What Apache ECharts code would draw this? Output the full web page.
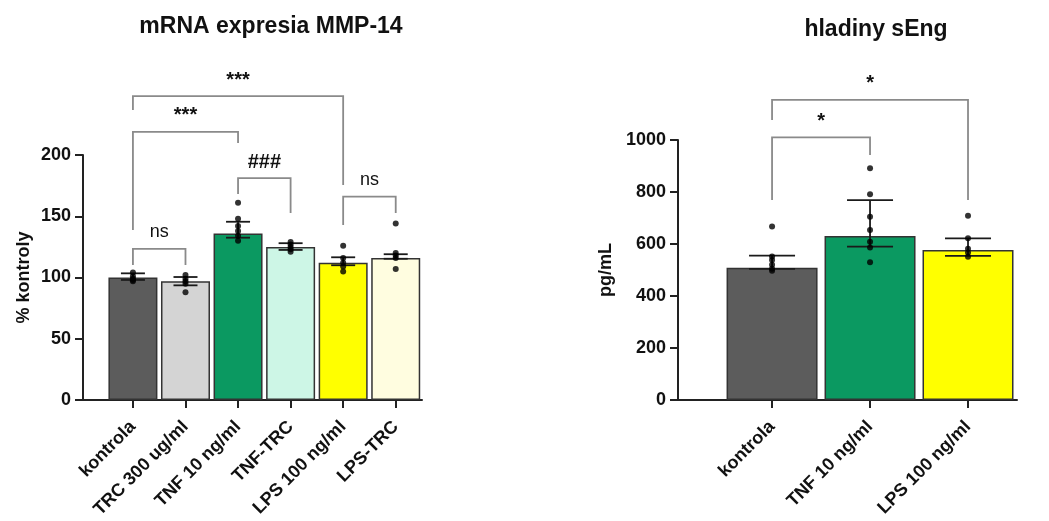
<!DOCTYPE html>
<html>
<head>
<meta charset="utf-8">
<script src="https://cdn.jsdelivr.net/npm/echarts@6/dist/echarts.min.js"></script>
<style>
  html, body { margin: 0; padding: 0; background: #fff; }
  #chart { width: 1049px; height: 521px; }
</style>
</head>
<body>
<div id="chart"></div>
<script>
// left panel: mRNA expresia MMP-14
const mmpCategories = ['kontrola', 'TRC 300 ug/ml', 'TNF 10 ng/ml', 'TNF-TRC', 'LPS 100 ng/ml', 'LPS-TRC']
const mmpMeans = [100, 97, 136, 125, 112, 116]
const mmpErrLow = [98, 93.6, 132.5, 122.5, 110, 115.3]
const mmpErrHigh = [103.4, 100.4, 145.5, 128, 116.5, 119]
const mmpPoints = [
  [104, 101, 99, 98, 97],
  [102, 99, 97, 95, 88],
  [161, 148, 142, 138, 134, 130],
  [129, 127, 125, 123, 121],
  [126, 116, 112, 109, 105],
  [144, 120, 118, 116, 107]
]
const mmpColors = ['#5c5c5c', '#d4d4d4', '#0b9961', '#cdf6e6', '#ffff00', '#fffde0']
const mmpYTicks = [0, 50, 100, 150, 200]
// brackets: [from, to, top, leftLegEnd, rightLegEnd, text]
const mmpBrackets = [
  [0, 4, 248, 236.7, 175.5, '***'],
  [0, 2, 218.8, 138.8, 209.8, '***'],
  [2, 3, 181.2, 168.2, 152.7, '###'],
  [4, 5, 166, 142.9, 152.7, 'ns'],
  [0, 1, 123.3, 110.2, 110.2, 'ns']
]

// right panel: hladiny sEng
const engCategories = ['kontrola', 'TNF 10 ng/ml', 'LPS 100 ng/ml']
const engMeans = [509, 631, 577]
const engErrLow = [504, 590, 554]
const engErrHigh = [555, 769, 622]
const engPoints = [
  [667, 552, 538, 520, 505, 497],
  [891, 791, 705, 654, 609, 587, 530],
  [709, 622, 582, 567, 551]
]
const engColors = ['#5c5c5c', '#0b9961', '#ffff00']
const engYTicks = [0, 200, 400, 600, 800, 1000]
const engBrackets = [
  [0, 2, 1154, 1077, 769, '*'],
  [0, 1, 1010, 769, 942, '*']
]

const FONT = 'Liberation Sans, Arial, sans-serif'
const chart = echarts.init(document.getElementById('chart'))

function xAxisFor(gridIndex, cats, min) {
  const idx = cats.map((c, i) => i)
  return {
    gridIndex,
    type: 'value',
    min,
    max: cats.length - 0.5,
    splitLine: { show: false },
    axisLine: { lineStyle: { color: '#222', width: 2 } },
    axisTick: { customValues: idx, length: 8, lineStyle: { color: '#222', width: 2 } },
    axisLabel: {
      customValues: idx,
      rotate: 45,
      margin: 24,
      color: '#111',
      fontWeight: 'bold',
      fontSize: 18,
      fontFamily: FONT,
      formatter: v => cats[Math.round(v)]
    }
  }
}

function yAxisFor(gridIndex, ticks, name, nameGap) {
  return {
    gridIndex,
    type: 'value',
    min: ticks[0],
    max: ticks[ticks.length - 1],
    interval: ticks[1] - ticks[0],
    name,
    nameLocation: 'middle',
    nameGap,
    nameTextStyle: { color: '#111', fontWeight: 'bold', fontSize: 18, fontFamily: FONT },
    splitLine: { show: false },
    axisLine: { show: true, onZero: false, lineStyle: { color: '#222', width: 2 } },
    axisTick: { show: true, length: 8, lineStyle: { color: '#222', width: 2 } },
    axisLabel: { color: '#111', fontWeight: 'bold', fontSize: 18, fontFamily: FONT, margin: 12,
      formatter: v => String(v) }
  }
}

function panelSeries(axisIndex, means, colors, errLow, errHigh, points, brackets, barWidth, capWidth) {
  const series = []
  series.push({
    type: 'bar',
    xAxisIndex: axisIndex,
    yAxisIndex: axisIndex,
    barWidth,
    data: means.map((v, i) => ({
      value: [i, v],
      itemStyle: { color: colors[i], borderColor: '#333', borderWidth: 1.5 }
    })),
    z: 2
  })
  series.push({
    type: 'custom',
    xAxisIndex: axisIndex,
    yAxisIndex: axisIndex,
    data: means.map((v, i) => [i, errLow[i], errHigh[i]]),
    renderItem: (params, api) => {
      const x = api.value(0)
      const lo = api.coord([x, api.value(1)])
      const hi = api.coord([x, api.value(2)])
      const h = capWidth / 2
      const st = { stroke: '#1a1a1a', lineWidth: 1.8 }
      return {
        type: 'group',
        children: [
          { type: 'line', shape: { x1: lo[0], y1: lo[1], x2: hi[0], y2: hi[1] }, style: st },
          { type: 'line', shape: { x1: hi[0] - h, y1: hi[1], x2: hi[0] + h, y2: hi[1] }, style: st },
          { type: 'line', shape: { x1: lo[0] - h, y1: lo[1], x2: lo[0] + h, y2: lo[1] }, style: st }
        ]
      }
    },
    z: 3
  })
  const dots = []
  points.forEach((arr, i) => arr.forEach(v => dots.push([i, v])))
  series.push({
    type: 'scatter',
    xAxisIndex: axisIndex,
    yAxisIndex: axisIndex,
    symbolSize: 6,
    itemStyle: { color: '#000' },
    data: dots,
    z: 4
  })
  series.push({
    type: 'custom',
    xAxisIndex: axisIndex,
    yAxisIndex: axisIndex,
    clip: false,
    data: brackets.map(b => b.slice(0, 5)),
    renderItem: (params, api) => {
      const b = brackets[params.dataIndex]
      const p1 = api.coord([b[0], b[3]])
      const p2 = api.coord([b[0], b[2]])
      const p3 = api.coord([b[1], b[2]])
      const p4 = api.coord([b[1], b[4]])
      const isNs = b[5] === 'ns'
      return {
        type: 'group',
        children: [
          {
            type: 'polyline',
            shape: { points: [p1, p2, p3, p4] },
            style: { stroke: '#8a8a8a', lineWidth: 1.8, fill: null }
          },
          {
            type: 'text',
            x: (p2[0] + p3[0]) / 2,
            y: p2[1] - (isNs ? 8 : 6),
            style: {
              text: b[5],
              fill: '#111',
              font: (isNs ? 'normal 18px ' : 'bold 20px ') + FONT,
              align: 'center',
              verticalAlign: 'bottom'
            }
          }
        ]
      }
    },
    z: 5
  })
  return series
}

chart.setOption({
  animation: false,
  title: [
    { text: 'mRNA expresia MMP-14', left: 266, top: 10, textAlign: 'center',
      textStyle: { fontSize: 23, fontWeight: 'bold', color: '#111', fontFamily: FONT } },
    { text: 'hladiny sEng', left: 871, top: 13, textAlign: 'center',
      textStyle: { fontSize: 23, fontWeight: 'bold', color: '#111', fontFamily: FONT } }
  ],
  grid: [
    { left: 83, top: 155, width: 339, height: 245 },
    { left: 678, top: 140, width: 339, height: 260 }
  ],
  xAxis: [
    xAxisFor(0, mmpCategories, -0.95),
    xAxisFor(1, engCategories, -0.96)
  ],
  yAxis: [
    yAxisFor(0, mmpYTicks, '% kontroly', 50),
    yAxisFor(1, engYTicks, 'pg/mL', 63)
  ],
  series: [
    ...panelSeries(0, mmpMeans, mmpColors, mmpErrLow, mmpErrHigh, mmpPoints, mmpBrackets, 49, 24),
    ...panelSeries(1, engMeans, engColors, engErrLow, engErrHigh, engPoints, engBrackets, 91, 46)
  ]
})
</script>
</body>
</html>
